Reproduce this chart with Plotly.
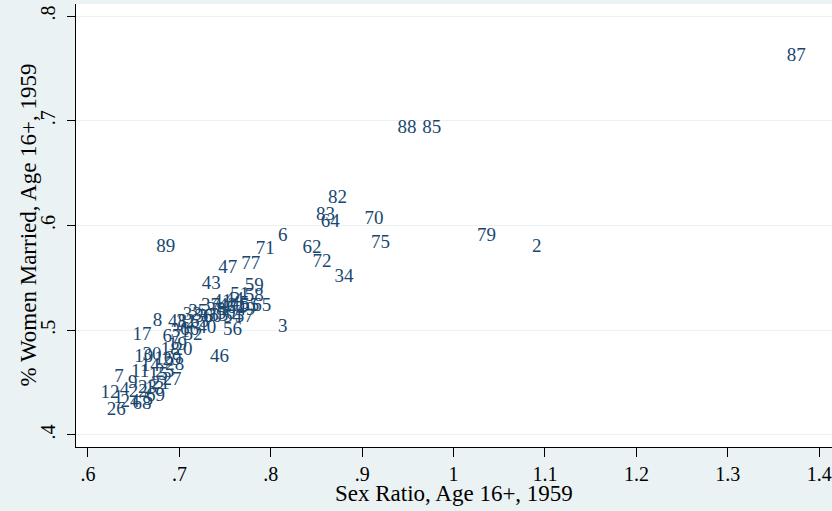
import plotly.graph_objects as go

# District labels, sex ratio (x) and share of women married (y)
labels = [87, 88, 85, 82, 83, 64, 70, 6, 79, 2, 71, 62, 75, 72, 34, 89, 47, 77, 43, 59,
          58, 55, 65, 3, 40, 56, 8, 48, 52, 17, 46, 10, 7, 12, 26, 5, 13, 27, 29,
          1, 4, 9, 11, 14, 15, 16, 18, 19, 20, 21, 22, 23, 24, 25, 28, 30, 31, 32, 33,
          35, 36, 37, 38, 41, 42, 44, 45, 49, 50, 51, 53, 54, 57, 60, 61, 63, 66, 67, 68, 69]
sex_ratio = [1.375, 0.949, 0.976, 0.873, 0.860, 0.865, 0.913, 0.813, 1.036, 1.091,
             0.794, 0.845, 0.920, 0.856, 0.880, 0.685, 0.753, 0.778, 0.735, 0.782,
             0.782, 0.777, 0.790, 0.813, 0.730, 0.758, 0.676, 0.698, 0.715, 0.659,
             0.744, 0.661, 0.634, 0.624, 0.631, 0.666, 0.673, 0.692, 0.692,
             0.633, 0.640, 0.649, 0.657, 0.668, 0.677, 0.683, 0.690, 0.698, 0.704,
             0.679, 0.655, 0.665, 0.646, 0.684, 0.695, 0.670, 0.701, 0.707, 0.714,
             0.720, 0.727, 0.734, 0.740, 0.747, 0.753, 0.760, 0.766, 0.773, 0.751,
             0.766, 0.743, 0.758, 0.771, 0.736, 0.762, 0.722, 0.711, 0.692, 0.659, 0.674]
married = [0.762, 0.693, 0.693, 0.626, 0.610, 0.603, 0.606, 0.590, 0.590, 0.579,
           0.577, 0.578, 0.583, 0.565, 0.551, 0.579, 0.559, 0.563, 0.544, 0.542,
           0.532, 0.523, 0.523, 0.503, 0.502, 0.500, 0.509, 0.508, 0.495, 0.495,
           0.474, 0.474, 0.455, 0.440, 0.424, 0.433, 0.444, 0.452, 0.471,
           0.435, 0.443, 0.449, 0.460, 0.466, 0.457, 0.472, 0.481, 0.486, 0.481,
           0.448, 0.441, 0.445, 0.431, 0.460, 0.467, 0.476, 0.498, 0.508, 0.514,
           0.517, 0.512, 0.523, 0.519, 0.527, 0.523, 0.529, 0.525, 0.519, 0.515,
           0.533, 0.513, 0.512, 0.512, 0.512, 0.521, 0.508, 0.500, 0.493, 0.429, 0.437]

x_ticks = [0.6, 0.7, 0.8, 0.9, 1.0, 1.1, 1.2, 1.3, 1.4]
x_ticktext = [".6", ".7", ".8", ".9", "1", "1.1", "1.2", "1.3", "1.4"]
y_ticks = [0.4, 0.5, 0.6, 0.7, 0.8]
y_ticktext = [".4", ".5", ".6", ".7", ".8"]
x_title = "Sex Ratio, Age 16+, 1959"
y_title = "% Women Married, Age 16+, 1959"

navy = "#1a476f"
bg = "#eaf2f3"
font_family = "Liberation Serif"
tick_font = dict(family=font_family, size=20, color="black")
title_font = dict(family=font_family, size=23, color="black")

fig = go.Figure(go.Scatter(
    x=sex_ratio, y=married, mode="text",
    text=[str(v) for v in labels],
    textposition="middle center",
    textfont=dict(family=font_family, size=19, color=navy),
    hoverinfo="skip", cliponaxis=False,
))

fig.update_layout(
    width=832, height=511,
    margin=dict(l=76, r=0, t=4, b=64),
    paper_bgcolor=bg, plot_bgcolor="white",
    showlegend=False,
    font=dict(family=font_family, color="black"),
)
fig.update_xaxes(
    range=[0.5869, 1.414], tickvals=x_ticks, ticktext=x_ticktext,
    showgrid=False, zeroline=False,
    showline=True, linecolor="black", linewidth=1,
    ticks="outside", ticklen=9, tickcolor="black",
    tickfont=tick_font,
)
fig.update_yaxes(
    range=[0.3885, 0.8115], tickvals=y_ticks, ticktext=y_ticktext,
    showgrid=True, gridcolor=bg, gridwidth=1, zeroline=False,
    showline=True, linecolor="black", linewidth=1,
    ticks="outside", ticklen=8, tickcolor="black", tickangle=-90,
    ticklabelstandoff=4,
    tickfont=tick_font,
)
fig.add_annotation(text=y_title, textangle=-90, font=title_font,
                   xref="paper", yref="paper", x=0, y=0.5,
                   xanchor="center", yanchor="middle", xshift=-48, showarrow=False)
fig.add_annotation(text=x_title, font=title_font,
                   xref="paper", yref="paper", x=0.5, y=0,
                   xanchor="center", yanchor="middle", yshift=-46, showarrow=False)

fig.write_html("out.html")
